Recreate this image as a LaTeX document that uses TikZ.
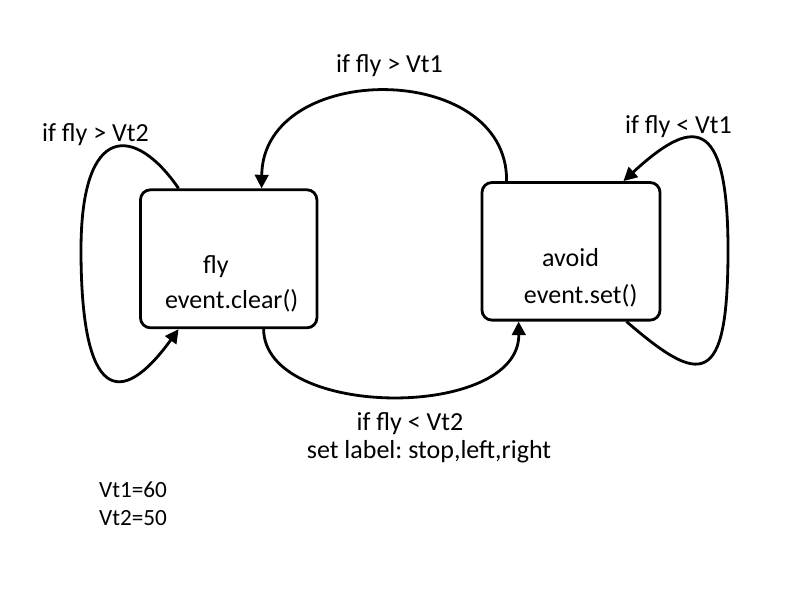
\documentclass[tikz,border=0pt]{standalone}
\usepackage{fontspec}
\setmainfont{Carlito}
\frenchspacing
\usetikzlibrary{calc,arrows.meta}
\tikzset{myStateBox/.style={draw=black, line width=0.7mm, rounded corners=0.25cm, inner sep=0pt}}
\tikzset{myTransLine/.style={line width=0.7mm, color=black, -{Triangle[length=3.4mm,width=3.4mm]}}}
\tikzset{myLabel/.style={anchor=base, inner sep=0pt, font=\fontsize{18.5}{22}\selectfont}}

\begin{document}
\begin{tikzpicture}[x=0.025cm, y=-0.025cm]
	\useasboundingbox (0,0) rectangle (800,600);
	% states
	\node[myStateBox, minimum width=4.41cm, minimum height=3.45cm] (flyBox) at (228.7,258.8) {};
	\node[myStateBox, minimum width=4.45cm, minimum height=3.44cm] (avoidBox) at (571,251.3) {};
	\node[myLabel] (flyName) at (216,273) {fly};
	\node[myLabel] (flyAct) at (231.7,308) {event.clear()};
	\node[myLabel] (avoidName) at (570.5,266.7) {avoid};
	\node[myLabel] (avoidAct) at (580.7,303) {event.set()};

	% points on the boxes
	\coordinate (A) at ($(avoidBox.north west)+(26,0)$);
	\coordinate (A') at ($(flyBox.north west)+(122.5,0)$);
	\coordinate (B) at ($(flyBox.south west)+(124.5,0)$);
	\coordinate (B') at ($(avoidBox.south west)+(38,0)$);
	\coordinate (C) at ($(flyBox.north west)+(39.5,0)$);
	\coordinate (C') at ($(flyBox.south west)+(39.5,0)$);
	\coordinate (D) at ($(avoidBox.south east)+(-35,0)$);
	\coordinate (D') at ($(avoidBox.north east)+(-38,0)$);

	% transitions
	\draw[myTransLine] (A) .. controls (508,60) and (263,60) .. (A');
	\draw[myTransLine] (B) .. controls (265,420) and (520,420) .. (B');
	\draw[myTransLine] (C) .. controls (135,125) and (81,122) .. (81,250) .. controls (81,400) and (120,410) .. (C');
	\draw[myTransLine] (D) .. controls (700,385) and (728,390) .. (728,250) .. controls (728,110) and (690,120) .. (D');

	\node[myLabel] (condTop) at (389.5,72) {if fly > Vt1};
	\node[myLabel] (condFly) at (95.5,141.7) {if fly > Vt2};
	\node[myLabel] (condAvoid) at (678.5,133) {if fly < Vt1};
	\node[myLabel] (condBottom) at (410,430) {if fly < Vt2};
	\node[myLabel] (setLabel) at (429,458) {set label: stop,left,right};

	\node[myLabel, font=\fontsize{16.5}{20}\selectfont] (vtOne) at (133,497.7) {Vt1=60};
	\node[myLabel, font=\fontsize{16.5}{20}\selectfont] (vtTwo) at (133,525) {Vt2=50};
\end{tikzpicture}
\end{document}
